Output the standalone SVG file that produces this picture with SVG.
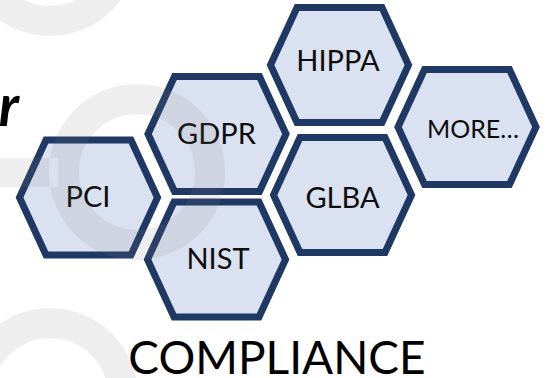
<svg xmlns="http://www.w3.org/2000/svg" xmlns:xlink="http://www.w3.org/1999/xlink" width="548" height="378" viewBox="0 0 548 378">
  <defs>
    <style>
      .hex { fill: #dae1f1; stroke: #1f3864; stroke-width: 7; stroke-linejoin: miter; }
      .lbl { font-family: Lato, "Liberation Sans", sans-serif; font-size: 29px; fill: #0d0d0d; text-anchor: middle; }
      .small { font-size: 25px; }
      .title { font-family: Lato, "Liberation Sans", sans-serif; font-size: 46px; fill: #000; text-anchor: middle; }
      .cut { font-family: Lato, "Liberation Sans", sans-serif; font-size: 57px; font-weight: bold; font-style: italic; fill: #000; text-anchor: end; }
      .mark { fill: #808080; }
    </style>
    <!-- flat-topped hexagon centred on the origin -->
    <path id="hexShape" d="M-69,0 L-42.5,-57.5 L42.5,-57.5 L69,0 L42.5,57.5 L-42.5,57.5 Z"/>
  </defs>

  <rect width="548" height="378" fill="#ffffff"/>

  <!-- trailing letter of a heading cut off at the left edge -->
  <text class="cut" x="19" y="126">r</text>

  <g id="node-pci">
    <use xlink:href="#hexShape" class="hex" transform="translate(88.5,197.5)"/>
    <text class="lbl" x="88" y="207">PCI</text>
  </g>
  <g id="node-gdpr">
    <use xlink:href="#hexShape" class="hex" transform="translate(217,134)"/>
    <text class="lbl" x="216.5" y="144">GDPR</text>
  </g>
  <g id="node-nist">
    <use xlink:href="#hexShape" class="hex" transform="translate(216.5,259.5)"/>
    <text class="lbl" x="218" y="269">NIST</text>
  </g>
  <g id="node-hippa">
    <use xlink:href="#hexShape" class="hex" transform="translate(339.5,65)"/>
    <text class="lbl" x="338" y="71">HIPPA</text>
  </g>
  <g id="node-glba">
    <use xlink:href="#hexShape" class="hex" transform="translate(342.5,195)"/>
    <text class="lbl" x="342.5" y="207.5">GLBA</text>
  </g>
  <g id="node-more">
    <use xlink:href="#hexShape" class="hex" transform="translate(467,127)"/>
    <text class="lbl small" x="473" y="138">MORE…</text>
  </g>

  <g id="connectors"/>

  <text id="caption" class="title" x="277" y="374">COMPLIANCE</text>

  <!-- faint ring watermarks laid over the artwork -->
  <g class="mark" opacity="0.125">
    <path fill-rule="evenodd" d="M50,-52 m-88,0 a88,88 0 1,0 176,0 a88,88 0 1,0 -176,0 Z M50,-52 m-58,0 a58,58 0 1,1 116,0 a58,58 0 1,1 -116,0 Z"/>
    <path fill-rule="nonzero" d="M137,172 m-88,0 a88,88 0 1,0 176,0 a88,88 0 1,0 -176,0 Z M137,172 m-58,0 a58,58 0 1,1 116,0 a58,58 0 1,1 -116,0 Z M-5,158 H58 V187 H-5 Z"/>
    <path fill-rule="evenodd" d="M50,396 m-88,0 a88,88 0 1,0 176,0 a88,88 0 1,0 -176,0 Z M50,396 m-58,0 a58,58 0 1,1 116,0 a58,58 0 1,1 -116,0 Z"/>
  </g>
</svg>
